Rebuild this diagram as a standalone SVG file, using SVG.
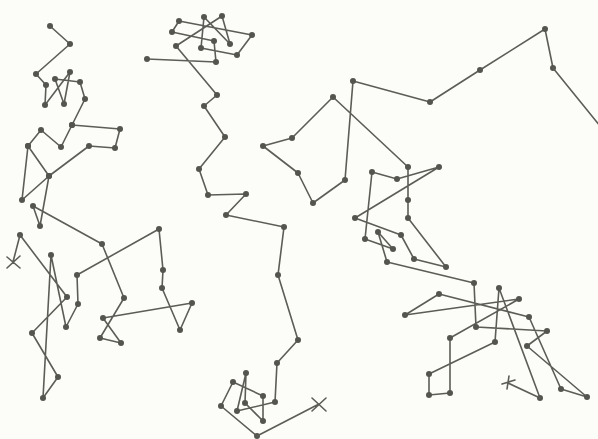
<svg xmlns="http://www.w3.org/2000/svg" width="598" height="439" viewBox="0 0 598 439">
<defs>
<style>
.p{fill:none;stroke:#5d5d57;stroke-width:1.6;stroke-linejoin:round;stroke-linecap:round;marker-start:url(#d);marker-mid:url(#d);marker-end:url(#d)}
.q{fill:none;stroke:#5d5d57;stroke-width:1.6;stroke-linecap:round}
</style>
<marker id="d" markerUnits="userSpaceOnUse" markerWidth="8" markerHeight="8" refX="4" refY="4" viewBox="0 0 8 8">
<circle cx="4" cy="4" r="3" fill="#55554f"/>
</marker>
</defs>
<rect width="598" height="439" fill="#fcfcf8"/>
<g id="path-left">
<polyline class="p" points="50,26 70,44 36,74 46,85 45,105 70,72 64,104 55,79 80,82 85,99 72,125 120,129 115,148 89,146 49,176 22,200 28,146 41,130 61,147 72,125"/>
<polyline class="p" points="28,146 49,176 40,226 33,206 102,244 124,298 100,338 121,343 103,318 192,303 180,330 162,288 163,270 159,229 77,275 78,304 66,327 51,255 43,398 58,377 32,333 67,297 20,235"/>
<path class="q" d="M20,235 L13,262 M7,257 L20,268 M7,268 L20,256"/>
</g>
<g id="path-middle">
<polyline class="p" points="147,59 216,62 214,41 172,32 179,21 252,35 237,55 201,48 204,17 230,44 222,16 176,46 217,95 204,106 225,137 199,169 208,195 246,194 226,215 284,227 278,275 298,340 277,363 275,402 237,411 246,373 245,403 263,421 263,396 233,382 221,406 257,436"/>
<path class="q" d="M257,436 L319,404 M312,398 L326,411 M312,411 L326,398"/>
</g>
<g id="path-right">
<polyline class="p" points="553,68 545,29 480,70 430,102 353,81 345,180 313,203 298,173 263,146 292,138 333,97 408,167 408,200 408,218 446,267 414,259 401,235 355,218 439,167 397,179 372,172 365,239 393,249 378,232 387,262 474,283 476,327 547,331 527,346 587,397 561,389 529,317 439,294 405,315 519,299 450,338 450,393 429,395 429,374 495,342 499,288 540,398"/>
<path class="q" d="M553,68 L600,126 M540,398 L508,383 M509,376 L507,389 M502,384 L515,380"/>
</g>
</svg>
